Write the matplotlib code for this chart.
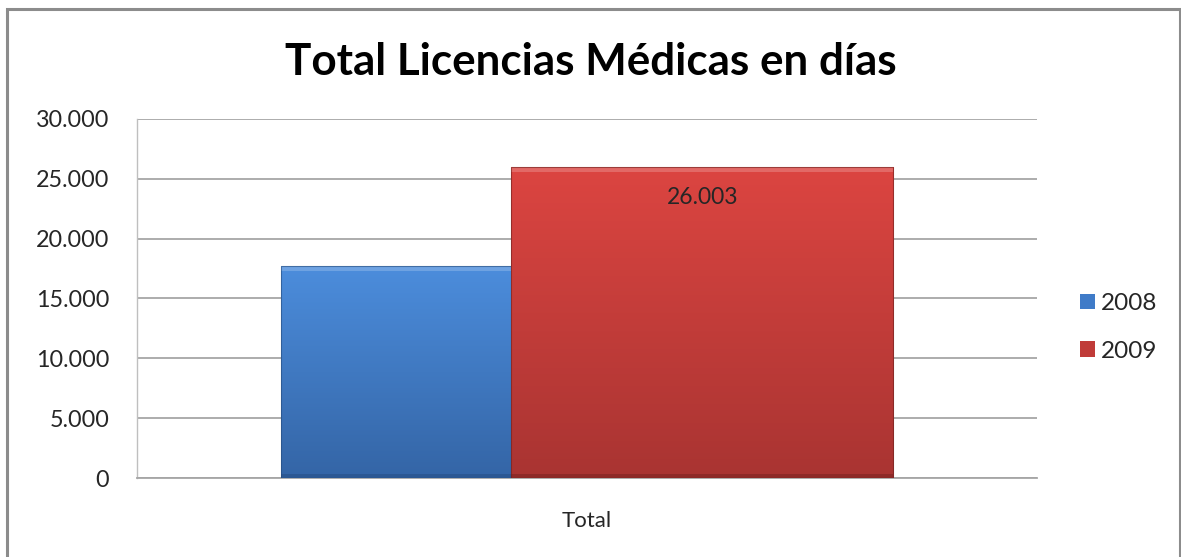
import matplotlib
matplotlib.use("Agg")
import matplotlib.pyplot as plt
import numpy as np
from matplotlib.colors import LinearSegmentedColormap
from matplotlib.patches import Rectangle
from matplotlib.ticker import FuncFormatter, MultipleLocator

# Data
categories = ["Total"]
series_names = ["2008", "2009"]
values_2008 = [17680]
values_2009 = [26003]
data_labels_2009 = ["26.003"]

plt.rcParams["font.family"] = ["Lato", "DejaVu Sans"]

fig = plt.figure(figsize=(11.81, 5.57), dpi=100)
fig.patch.set_facecolor("white")

# Outer chart frame
frame = Rectangle((0.006, -0.02), 0.993, 1.003, transform=fig.transFigure,
                  fill=False, edgecolor="#8c8c8c", linewidth=2.2, zorder=0)
fig.add_artist(frame)

ax = fig.add_axes([0.116, 0.1418, 0.762, 0.6446])
ax.set_xlim(-0.5, 0.5)
ax.set_ylim(0, 30000)

ax.yaxis.set_major_locator(MultipleLocator(5000))
ax.yaxis.set_major_formatter(FuncFormatter(lambda v, p: f"{int(v):,}".replace(",", ".")))
ax.grid(axis="y", color="#a6a6a6", linewidth=1.3, zorder=0)
ax.set_axisbelow(True)

for side in ["top", "right"]:
    ax.spines[side].set_visible(False)
ax.spines["left"].set_color("#bfbfbf")
ax.spines["left"].set_linewidth(1.0)
ax.spines["bottom"].set_color("#a6a6a6")
ax.spines["bottom"].set_linewidth(1.3)

ax.tick_params(axis="y", length=0, labelsize=16.8, pad=20, colors="#262626")
ax.tick_params(axis="x", length=0, labelsize=16, pad=24, colors="#262626")
ax.set_xticks(range(len(categories)))
ax.set_xticklabels(categories)

bar_width = 0.425
offset = 0.128
x = np.arange(len(categories))

styles = {
    "2008": ("#4c8ddc", "#3465a6", "#244a7c"),
    "2009": ("#dc4541", "#a93432", "#6e201e"),
}


def gradient_bars(xs, heights, top_col, bot_col, edge_col, label, base_z):
    cmap = LinearSegmentedColormap.from_list(label, [bot_col, top_col])
    bars = ax.bar(xs, heights, width=bar_width, color=top_col, edgecolor="none",
                  linewidth=0, label=label, zorder=base_z)
    for b in bars:
        x0, y0 = b.get_x(), b.get_y()
        w, h = b.get_width(), b.get_height()
        grad = np.linspace(0, 1, 256).reshape(-1, 1)
        im = ax.imshow(grad, cmap=cmap, origin="lower", aspect="auto",
                       extent=[x0, x0 + w, y0, y0 + h], zorder=base_z + 0.1)
        im.set_clip_path(b)
        # bevel: light top rim, dark bottom rim
        ax.add_patch(Rectangle((x0, y0 + h - 400), w, 400, facecolor="white",
                               alpha=0.2, edgecolor="none", zorder=base_z + 0.2))
        ax.add_patch(Rectangle((x0, y0), w, 350, facecolor=edge_col,
                               alpha=0.45, edgecolor="none", zorder=base_z + 0.2))
        ax.add_patch(Rectangle((x0, y0), w, h, fill=False, edgecolor=edge_col,
                               linewidth=0.8, alpha=0.6, zorder=base_z + 0.3))
    return bars


b1 = gradient_bars(x - offset, values_2008, *styles["2008"], series_names[0], 3)
b2 = gradient_bars(x + offset, values_2009, *styles["2009"], series_names[1], 4)
ax.set_xlim(-0.5, 0.5)
ax.set_ylim(0, 30000)

for xi, v, lab in zip(x + offset, values_2009, data_labels_2009):
    ax.text(xi, v - 2600, lab, ha="center", va="center", fontsize=16.5,
            color="#262626", zorder=6)

leg = ax.legend(loc="center left", bbox_to_anchor=(1.024, 0.42), frameon=False,
                fontsize=17.5, handlelength=0.6, handleheight=0.6,
                handletextpad=0.25, labelspacing=1.1)
for t in leg.get_texts():
    t.set_color("#262626")
handles = leg.legend_handles
handles[0].set_facecolor("#3f7bc8")
handles[1].set_facecolor("#c03b38")

fig.text(0.5, 0.888, "Total Licencias Médicas en días", ha="center", va="center",
         fontsize=31.7, fontweight="bold", color="#000000")

fig.savefig("out.png", dpi=100, facecolor="white")
